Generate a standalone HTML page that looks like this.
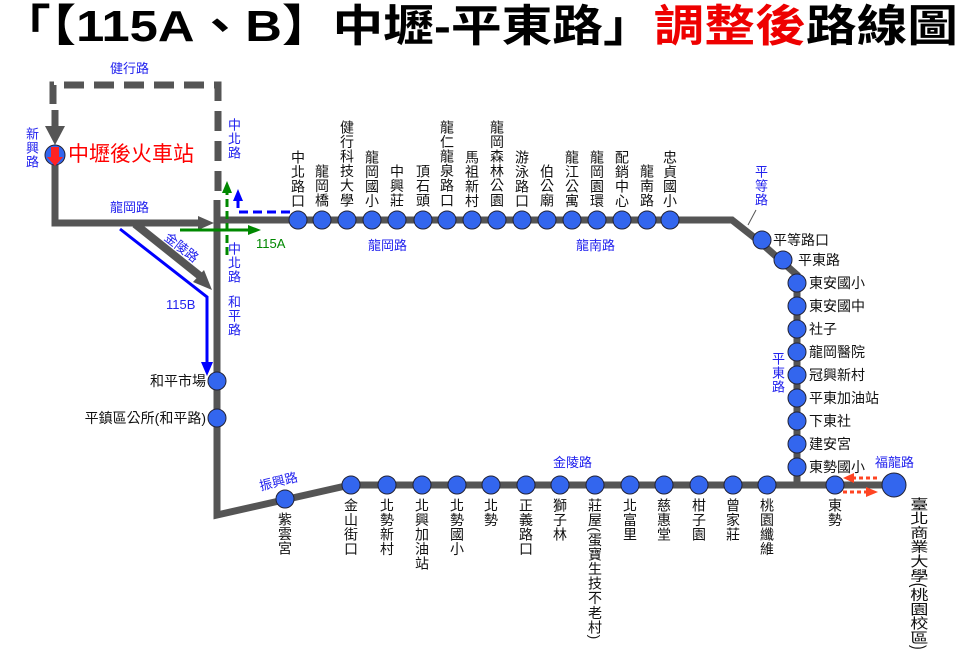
<!DOCTYPE html>
<html><head><meta charset="utf-8"><style>
html,body{margin:0;padding:0;background:#fff;}
#c{position:relative;width:960px;height:665px;overflow:hidden;font-family:"Liberation Sans","Noto Sans CJK TC",sans-serif;}
.v{position:absolute;writing-mode:vertical-rl;font-size:14px;color:#111;line-height:15px;letter-spacing:0.6px;white-space:nowrap;}
.t{position:absolute;font-size:14px;color:#111;white-space:nowrap;line-height:16px;}
.b{position:absolute;font-size:13px;color:#2222ee;white-space:nowrap;line-height:15px;}
.bv{position:absolute;writing-mode:vertical-rl;font-size:13px;color:#2222ee;line-height:14px;letter-spacing:1px;white-space:nowrap;}
</style></head><body><div id="c">
<svg width="960" height="665" style="position:absolute;left:0;top:0">
<text x="0" y="41" font-size="44" font-weight="bold" textLength="958" lengthAdjust="spacingAndGlyphs" font-family="Liberation Sans,Noto Sans CJK TC,sans-serif" fill="#000">「【115A、B】中壢-平東路」<tspan fill="#e00">調整後</tspan>路線圖</text>
<path d="M53,104 V85 H218 V200" fill="none" stroke="#555" stroke-width="7" stroke-dasharray="20,10"/>
<path d="M55,110 V128" stroke="#555" stroke-width="7"/>
<path d="M45,126 L65,126 L55,145z" fill="#555"/>
<path d="M55,165 V223 H200" fill="none" stroke="#555" stroke-width="7"/>
<path d="M198,216 L214,223 L198,230z" fill="#555"/>
<path d="M217,200 V515 L350,485 H797 V275 L760,242 L732,220 H217" fill="none" stroke="#555" stroke-width="7" stroke-linejoin="miter"/>
<path d="M797,485 H893" stroke="#555" stroke-width="7"/>
<path d="M135,224 L200,276" stroke="#555" stroke-width="8"/>
<path d="M193,282 L212,290 L204,270z" fill="#555"/>
<path d="M120,229 L207,297 V365" fill="none" stroke="#00f" stroke-width="3"/>
<path d="M201,362 L213,362 L207,376z" fill="#00f"/>
<path d="M180,230 H250" stroke="#080" stroke-width="3"/>
<path d="M248,225 L261,230 L248,235z" fill="#080"/>
<path d="M227,255 V192" stroke="#080" stroke-width="3" stroke-dasharray="8,4"/>
<path d="M222,193 L227,181 L232,193z" fill="#080"/>
<path d="M290,212 H238 V200" fill="none" stroke="#00f" stroke-width="3" stroke-dasharray="9,5"/>
<path d="M233,201 L238,189 L243,201z" fill="#00f"/>
<path d="M877,478 H852" stroke="#f42" stroke-width="3" stroke-dasharray="4,3"/>
<path d="M854,473 L843,478 L854,483z" fill="#f42"/>
<path d="M843,492 H868" stroke="#f42" stroke-width="3" stroke-dasharray="4,3"/>
<path d="M866,487 L878,492 L866,497z" fill="#f42"/>
<path d="M756,210 L748,225" stroke="#555" stroke-width="1"/>
<g fill="#3366ee" stroke="#223" stroke-width="1">
<circle cx="55" cy="155" r="10"/>
<circle cx="298" cy="220" r="9"/><circle cx="322" cy="220" r="9"/><circle cx="347" cy="220" r="9"/><circle cx="372" cy="220" r="9"/><circle cx="397" cy="220" r="9"/><circle cx="423" cy="220" r="9"/><circle cx="447" cy="220" r="9"/><circle cx="472" cy="220" r="9"/><circle cx="497" cy="220" r="9"/><circle cx="522" cy="220" r="9"/><circle cx="547" cy="220" r="9"/><circle cx="572" cy="220" r="9"/><circle cx="597" cy="220" r="9"/><circle cx="622" cy="220" r="9"/><circle cx="647" cy="220" r="9"/><circle cx="670" cy="220" r="9"/>
<circle cx="762" cy="240" r="9"/><circle cx="783" cy="260" r="9"/>
<circle cx="797" cy="283" r="9"/><circle cx="797" cy="306" r="9"/><circle cx="797" cy="329" r="9"/><circle cx="797" cy="352" r="9"/><circle cx="797" cy="375" r="9"/><circle cx="797" cy="398" r="9"/><circle cx="797" cy="421" r="9"/><circle cx="797" cy="444" r="9"/><circle cx="797" cy="467" r="9"/>
<circle cx="217" cy="381" r="9"/><circle cx="217" cy="418" r="9"/>
<circle cx="285" cy="499" r="9"/>
<circle cx="351" cy="485" r="9"/><circle cx="387" cy="485" r="9"/><circle cx="422" cy="485" r="9"/><circle cx="457" cy="485" r="9"/><circle cx="491" cy="485" r="9"/><circle cx="526" cy="485" r="9"/><circle cx="560" cy="485" r="9"/><circle cx="595" cy="485" r="9"/><circle cx="630" cy="485" r="9"/><circle cx="664" cy="485" r="9"/><circle cx="699" cy="485" r="9"/><circle cx="733" cy="485" r="9"/><circle cx="767" cy="485" r="9"/><circle cx="835" cy="485" r="9"/>
<circle cx="894" cy="485" r="12"/>
</g>
<path d="M51,147 V157 H47 L55,166 L63,157 H59 V147z" fill="#f22"/>
</svg>
<div style="position:absolute;left:68px;top:143px;font-size:21px;color:#f00;line-height:24px;white-space:nowrap">中壢後火車站</div>
<div class="b" style="left:110px;top:61px">健行路</div>
<div class="bv" style="left:24px;top:127px">新興路</div>
<div class="b" style="left:110px;top:200px">龍岡路</div>
<div class="b" style="left:162px;top:240px;transform:rotate(38deg)">金陵路</div>
<div class="b" style="left:166px;top:297px">115B</div>
<div class="bv" style="left:226px;top:118px">中北路</div>
<div class="bv" style="left:226px;top:242px">中北路</div>
<div class="bv" style="left:226px;top:295px">和平路</div>
<div class="b" style="left:256px;top:236px;color:#080">115A</div>
<div class="b" style="left:368px;top:238px">龍岡路</div>
<div class="b" style="left:576px;top:238px">龍南路</div>
<div class="bv" style="left:753px;top:165px">平等路</div>
<div class="bv" style="left:770px;top:352px">平東路</div>
<div class="b" style="left:553px;top:455px">金陵路</div>
<div class="b" style="left:259px;top:474px;transform:rotate(-14deg)">振興路</div>
<div class="b" style="left:875px;top:455px">福龍路</div>
<div class="v" style="left:290px;bottom:457px">中北路口</div>
<div class="v" style="left:314px;bottom:457px">龍岡橋</div>
<div class="v" style="left:339px;bottom:457px">健行科技大學</div>
<div class="v" style="left:364px;bottom:457px">龍岡國小</div>
<div class="v" style="left:389px;bottom:457px">中興莊</div>
<div class="v" style="left:415px;bottom:457px">頂石頭</div>
<div class="v" style="left:439px;bottom:457px">龍仁龍泉路口</div>
<div class="v" style="left:464px;bottom:457px">馬祖新村</div>
<div class="v" style="left:489px;bottom:457px">龍岡森林公園</div>
<div class="v" style="left:514px;bottom:457px">游泳路口</div>
<div class="v" style="left:539px;bottom:457px">伯公廟</div>
<div class="v" style="left:564px;bottom:457px">龍江公寓</div>
<div class="v" style="left:589px;bottom:457px">龍岡園環</div>
<div class="v" style="left:614px;bottom:457px">配銷中心</div>
<div class="v" style="left:639px;bottom:457px">龍南路</div>
<div class="v" style="left:662px;bottom:457px">忠貞國小</div>
<div class="t" style="left:773px;top:232px">平等路口</div>
<div class="t" style="left:798px;top:252px">平東路</div>
<div class="t" style="left:809px;top:275px">東安國小</div>
<div class="t" style="left:809px;top:298px">東安國中</div>
<div class="t" style="left:809px;top:321px">社子</div>
<div class="t" style="left:809px;top:344px">龍岡醫院</div>
<div class="t" style="left:809px;top:367px">冠興新村</div>
<div class="t" style="left:809px;top:390px">平東加油站</div>
<div class="t" style="left:809px;top:413px">下東社</div>
<div class="t" style="left:809px;top:436px">建安宮</div>
<div class="t" style="left:809px;top:459px">東勢國小</div>
<div class="t" style="right:754px;top:373px">和平市場</div>
<div class="t" style="right:754px;top:410px">平鎮區公所(和平路)</div>
<div class="v" style="left:277px;top:512px">紫雲宮</div>
<div class="v" style="left:343px;top:498px">金山街口</div>
<div class="v" style="left:379px;top:498px">北勢新村</div>
<div class="v" style="left:414px;top:498px">北興加油站</div>
<div class="v" style="left:449px;top:498px">北勢國小</div>
<div class="v" style="left:483px;top:498px">北勢</div>
<div class="v" style="left:518px;top:498px">正義路口</div>
<div class="v" style="left:552px;top:498px">獅子林</div>
<div class="v" style="left:587px;top:498px">莊屋(蛋寶生技不老村)</div>
<div class="v" style="left:622px;top:498px">北富里</div>
<div class="v" style="left:656px;top:498px">慈惠堂</div>
<div class="v" style="left:691px;top:498px">柑子園</div>
<div class="v" style="left:725px;top:498px">曾家莊</div>
<div class="v" style="left:759px;top:498px">桃園纖維</div>
<div class="v" style="left:827px;top:498px">東勢</div>
<div class="v" style="left:909px;top:497px;font-size:14px;line-height:15px;letter-spacing:0.3px;transform:scaleX(1.3);transform-origin:left top">臺北商業大學(桃園校區)</div>
</div></body></html>
